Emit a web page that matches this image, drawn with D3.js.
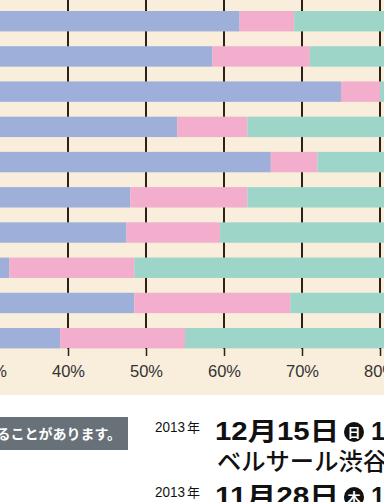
<!DOCTYPE html>
<html><head><meta charset="utf-8">
<script src="https://cdn.jsdelivr.net/npm/d3@7"></script>
<style>
html,body{margin:0;padding:0;background:#fff;overflow:hidden;}
svg{display:block;}
</style></head>
<body>
<svg id="c" width="384" height="502"></svg>
<script>
// categories (row labels are cropped out of the picture)
const categories = ["項目1","項目2","項目3","項目4","項目5","項目6","項目7","項目8","項目9","項目10"];
// series values (percent)
const blueValues = [62, 58.5, 75, 54, 66, 48, 47.5, 32.5, 48.5, 39];
const pinkValues = [7, 12.5, 5, 9, 6, 15, 12, 16, 20, 16];
const tealValues = [31, 29, 20, 37, 28, 37, 40.5, 51.5, 31.5, 45];
const seriesNames = ["blue","pink","teal"];
const tickValues = [30, 40, 50, 60, 70, 80, 90];

const colors = {blue:"#9eb0da", pink:"#f2aecc", teal:"#9dd5c8"};
const svg = d3.select("#c");
const W = 384;

// background panel
svg.append("rect").attr("x",0).attr("y",0).attr("width",W).attr("height",395).attr("fill","#f9eedc");

const x = d3.scaleLinear().domain([0,100]).range([-244, 536]);
const y = d3.scaleBand().domain(categories).range([3.6, 355.8]).paddingInner(0.42).paddingOuter(0.21);

// grid lines (behind bars)
svg.append("g").selectAll("line").data(tickValues).join("line")
  .attr("x1", d=>x(d)).attr("x2", d=>x(d))
  .attr("y1", 0).attr("y2", 349)
  .attr("stroke","#2b2118").attr("stroke-width",2);

// stacked bars
const rows = categories.map((c,i)=>({cat:c, blue:blueValues[i], pink:pinkValues[i], teal:tealValues[i]}));
const stack = d3.stack().keys(seriesNames)(rows);
svg.append("g").selectAll("g").data(stack).join("g")
  .attr("fill", d=>colors[d.key])
  .selectAll("rect").data(d=>d).join("rect")
  .attr("x", d=>x(d[0])).attr("width", d=>x(d[1])-x(d[0]))
  .attr("y", d=>y(d.data.cat)).attr("height", y.bandwidth());

// axis
const axis = d3.axisBottom(x).tickValues(tickValues).tickSize(8).tickPadding(9).tickFormat(d=>d+"%");
const ag = svg.append("g").attr("transform","translate(0,348)").call(axis);
ag.select(".domain").remove();
ag.selectAll(".tick line").attr("stroke","#2b2118").attr("stroke-width",1.5);
ag.selectAll(".tick text").attr("fill","#333").attr("font-size","16.5px")
  .attr("font-family","'Liberation Sans', Arial, sans-serif");

// gray notice box
svg.append("rect").attr("x",-10).attr("y",417).attr("width",138).attr("height",33).attr("fill","#687078");
svg.append("text").attr("x",121).attr("y",439).attr("text-anchor","end")
  .attr("fill","#fff").attr("font-size","14px").attr("font-weight","bold")
  .attr("font-family","'Noto Sans CJK JP', sans-serif")
  .text("内容は変更することがあります。");

// event text
const fontLatin = "'Liberation Sans', 'Noto Sans CJK JP', sans-serif";
function dateLine(baseY, dateStr, dayChar){
  svg.append("text").attr("x",155).attr("y",baseY-8).attr("font-size","14px")
    .attr("font-family",fontLatin).attr("fill","#111").attr("textLength",30).attr("lengthAdjust","spacingAndGlyphs").text("2013");
  svg.append("text").attr("x",187).attr("y",baseY-8).attr("font-size","13px")
    .attr("font-family","'Noto Sans CJK JP', sans-serif").attr("fill","#111").text("年");
  svg.append("text").attr("x",215).attr("y",baseY).attr("font-size","25px").attr("font-weight","bold")
    .attr("font-family",fontLatin).attr("fill","#111")
    .attr("textLength",124).attr("lengthAdjust","spacingAndGlyphs").text(dateStr);
  svg.append("circle").attr("cx",354).attr("cy",baseY-8).attr("r",10).attr("fill","#111");
  svg.append("text").attr("x",354).attr("y",baseY-3.5).attr("text-anchor","middle").attr("font-size","13px")
    .attr("font-weight","bold").attr("font-family","'Noto Sans CJK JP', sans-serif").attr("fill","#fff").text(dayChar);
  svg.append("text").attr("x",371).attr("y",baseY).attr("font-size","25px").attr("font-weight","bold")
    .attr("font-family",fontLatin).attr("fill","#111").text("13:00");
}
dateLine(440, "12月15日", "日");
svg.append("text").attr("x",217).attr("y",470).attr("font-size","24px").attr("font-weight","500")
  .attr("font-family","'Noto Sans CJK JP', sans-serif").attr("fill","#111")
  .attr("textLength",170).attr("lengthAdjust","spacingAndGlyphs").text("ベルサール渋谷");
dateLine(505, "11月28日", "木");
</script>
</body></html>
